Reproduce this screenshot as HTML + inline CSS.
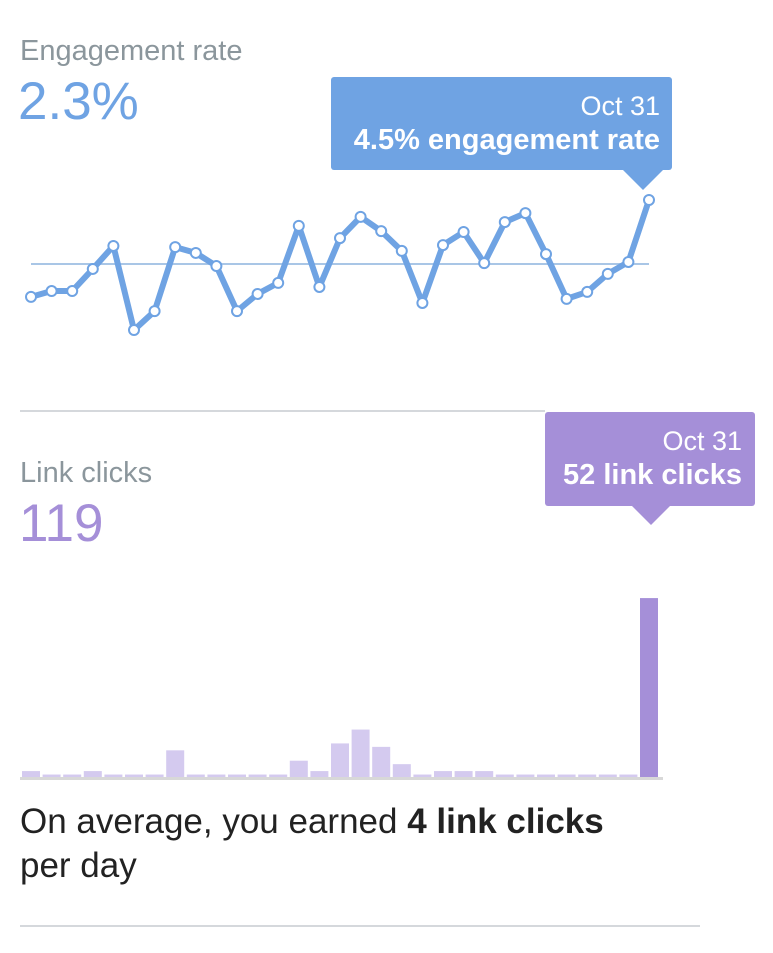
<!DOCTYPE html>
<html><head><meta charset="utf-8"><style>
body{margin:0;width:773px;height:953px;background:#fff;font-family:"Liberation Sans",sans-serif;position:relative;overflow:hidden}
.t{position:absolute;white-space:nowrap}
</style></head><body>
<div class="t" style="left:20px;top:35px;font-size:29px;color:#8b969c">Engagement rate</div>
<div class="t" style="left:18px;top:71px;font-size:53px;color:#6fa3e3">2.3%</div>
<div class="t" style="left:20px;top:457px;font-size:29px;color:#8b969c">Link clicks</div>
<div class="t" style="left:19px;top:493px;font-size:53px;color:#a58fd8">119</div>
<div class="t" style="left:20px;top:800px;font-size:35px;color:#222;line-height:44px">On average, you earned <b>4 link clicks</b><br>per day</div>
<div style="position:absolute;left:20px;top:410px;width:525px;height:2px;background:#d5d8dc"></div>
<div style="position:absolute;left:20px;top:925px;width:680px;height:2px;background:#d5d8dc"></div>
<svg id="c" width="773" height="953" style="position:absolute;left:0;top:0"></svg>
<script>
const days=[];for(let i=1;i<=31;i++)days.push('Oct '+i);
const rates=[1.17,1.37,1.37,2.13,2.92,0.03,0.68,2.88,2.68,2.23,0.68,1.27,1.65,3.61,1.51,3.19,3.92,3.43,2.75,0.96,2.95,3.40,2.33,3.74,4.05,2.64,1.10,1.34,1.96,2.37,4.5];
const avgRate=2.3;
const clicks=[2,1,1,2,1,1,1,8,1,1,1,1,1,5,2,10,14,9,4,1,2,2,2,1,1,1,1,1,1,1,52];
const NS='http://www.w3.org/2000/svg',svg=document.getElementById('c');
function mk(t,a){const e=document.createElementNS(NS,t);for(const k in a)e.setAttribute(k,a[k]);svg.appendChild(e);return e;}
const x=i=>31+i*20.6;
const yR=v=>330.9-29.09*v;
let e=mk('line',{x1:31,x2:649,y1:yR(avgRate),y2:yR(avgRate),stroke:'#a9c6e6','stroke-width':2});

e=mk('polyline',{points:rates.map((v,i)=>x(i)+','+yR(v)).join(' '),fill:'none',stroke:'#6fa3e3','stroke-width':6,'stroke-linejoin':'round'});

rates.forEach((v,i)=>{const c=mk('circle',{cx:x(i),cy:yR(v),r:5,fill:'#fff',stroke:'#6fa3e3','stroke-width':2});

});
clicks.forEach((v,i)=>{const h=Math.max(3,v*3.46);const r=mk('rect',{x:x(i)-9,y:778-h,width:18,height:h,fill:i==30?'#a58fd8':'#d4caef'});

});
e=mk('rect',{x:20,y:777,width:643,height:3,fill:'#d8d8d8'});

</script>
<div style="position:absolute;left:331px;top:77px;width:341px;height:93px;background:#6fa3e3;border-radius:3px;color:#fff;text-align:right">
<div style="position:absolute;right:12px;top:14px;font-size:27px">Oct 31</div>
<div style="position:absolute;right:12px;top:47px;font-size:29px;font-weight:bold">4.5% engagement rate</div></div>
<div style="position:absolute;left:623px;top:170px;width:0;height:0;border-left:20px solid transparent;border-right:20px solid transparent;border-top:20px solid #6fa3e3"></div>
<div style="position:absolute;left:545px;top:412px;width:210px;height:94px;background:#a58fd8;border-radius:3px;color:#fff">
<div style="position:absolute;right:13px;top:14px;font-size:27px">Oct 31</div>
<div style="position:absolute;right:13px;top:47px;font-size:29px;font-weight:bold">52 link clicks</div></div>
<div style="position:absolute;left:632px;top:506px;width:0;height:0;border-left:19px solid transparent;border-right:19px solid transparent;border-top:19px solid #a58fd8"></div>
</body></html>
